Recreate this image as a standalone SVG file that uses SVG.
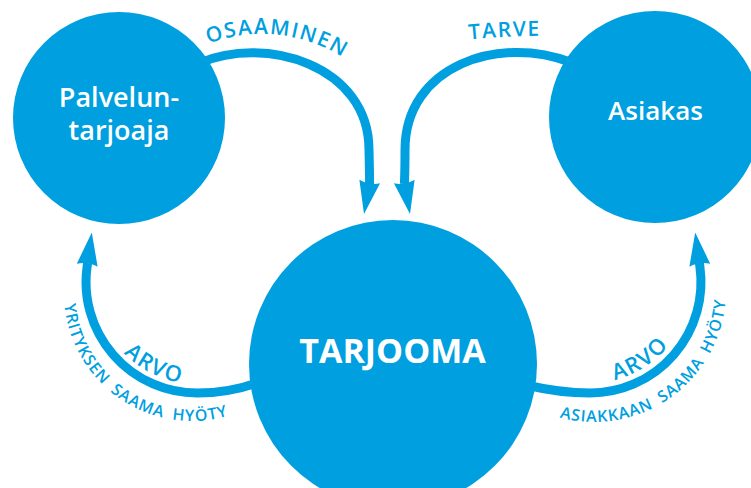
<svg xmlns="http://www.w3.org/2000/svg" width="751" height="488" viewBox="0 0 751 488">
  <style>
    .node { fill: #009FE0; }
    .name { fill: #FFFFFF; font-family: "Open Sans", "Noto Sans", sans-serif; font-weight: 600; text-anchor: middle; }
    .name.bold { font-weight: 700; }
    .flow { fill: none; stroke: #009FE0; stroke-width: 9; }
    .head { fill: #009FE0; }
    .tag { fill: #009FE0; font-family: "Open Sans", "Noto Sans", sans-serif; font-weight: 600; }
    .big { font-size: 21px; letter-spacing: 1.6px; }
    .arvo { font-size: 22px; letter-spacing: 1.6px; }
    .small { font-size: 16px; letter-spacing: 0.9px; word-spacing: 4px; }
  </style>
  <defs>
    <!-- arrowhead pointing down, tip at the origin -->
    <path id="head" d="M0 0 L-10.5 -33 Q0 -29 10.5 -33 Z"/>
    <!-- baselines for the curved labels -->
    <path id="p-osaaminen" d="M176.4 60.1 A152.4 152.4 0 0 1 371.2 80.5"/>
    <path id="p-tarve" d="M450 41.5 Q505 35 560 36"/>
    <path id="p-arvo-l" d="M111.2 337.1 A102 102 0 0 0 201.8 383.9"/>
    <path id="p-hyoty-l" d="M64.4 282.7 A128 128 0 0 0 248.5 407.9"/>
    <path id="p-arvo-r" d="M595.1 382.9 A101 101 0 0 0 679.9 328"/>
    <path id="p-hyoty-r" d="M538.8 409.9 A132 132 0 0 0 725.4 277.8"/>
  </defs>

  <g id="connectors">
    <!-- Palveluntarjoaja -> Tarjooma -->
    <path class="flow" d="M200 63 C265 35 369 65 369 150 Q369.5 170 369.6 184"/>
    <use href="#head" class="head" transform="translate(364 214) rotate(10)"/>
    <!-- Asiakas -> Tarjooma -->
    <path class="flow" d="M570 62 C500 35 405 65 405 150 Q405 170 404.4 184"/>
    <use href="#head" class="head" transform="translate(410 214) rotate(-10)"/>
    <!-- Tarjooma -> Palveluntarjoaja -->
    <path class="flow" d="M262 381 Q232 393 197 393 A111 111 0 0 1 87.1 266.6 L87.6 263"/>
    <use href="#head" class="head" transform="translate(91.8 232.5) rotate(188)"/>
    <!-- Tarjooma -> Asiakas -->
    <path class="flow" d="M526 385 Q560 393 590 393 A111 111 0 0 0 699.9 266.6 L699.4 263"/>
    <use href="#head" class="head" transform="translate(695.2 232.5) rotate(172)"/>

    <g id="connector-labels">
      <text class="tag big"><textPath href="#p-osaaminen" startOffset="50%" text-anchor="middle">OSAAMINEN</textPath></text>
      <text class="tag big"><textPath href="#p-tarve" startOffset="50%" text-anchor="middle">TARVE</textPath></text>
      <text class="tag arvo"><textPath href="#p-arvo-l" startOffset="50%" text-anchor="middle">ARVO</textPath></text>
      <text class="tag small"><textPath href="#p-hyoty-l" startOffset="50%" text-anchor="middle">YRITYKSEN SAAMA HYÖTY</textPath></text>
      <text class="tag arvo"><textPath href="#p-arvo-r" startOffset="50%" text-anchor="middle">ARVO</textPath></text>
      <text class="tag small"><textPath href="#p-hyoty-r" startOffset="50%" text-anchor="middle">ASIAKKAAN SAAMA HYÖTY</textPath></text>
    </g>
  </g>

  <g id="palveluntarjoaja">
    <circle class="node" cx="119" cy="118" r="106"/>
    <text class="name" x="119" y="107" font-size="27">Palvelun-</text>
    <text class="name" x="119" y="140" font-size="27">tarjoaja</text>
  </g>

  <g id="asiakas">
    <circle class="node" cx="655" cy="117" r="106"/>
    <text class="name" x="655.5" y="120" font-size="26">Asiakas</text>
  </g>

  <g id="tarjooma">
    <circle class="node" cx="393" cy="364" r="144"/>
    <text class="name bold" x="392.5" y="363" font-size="34">TARJOOMA</text>
  </g>
</svg>
